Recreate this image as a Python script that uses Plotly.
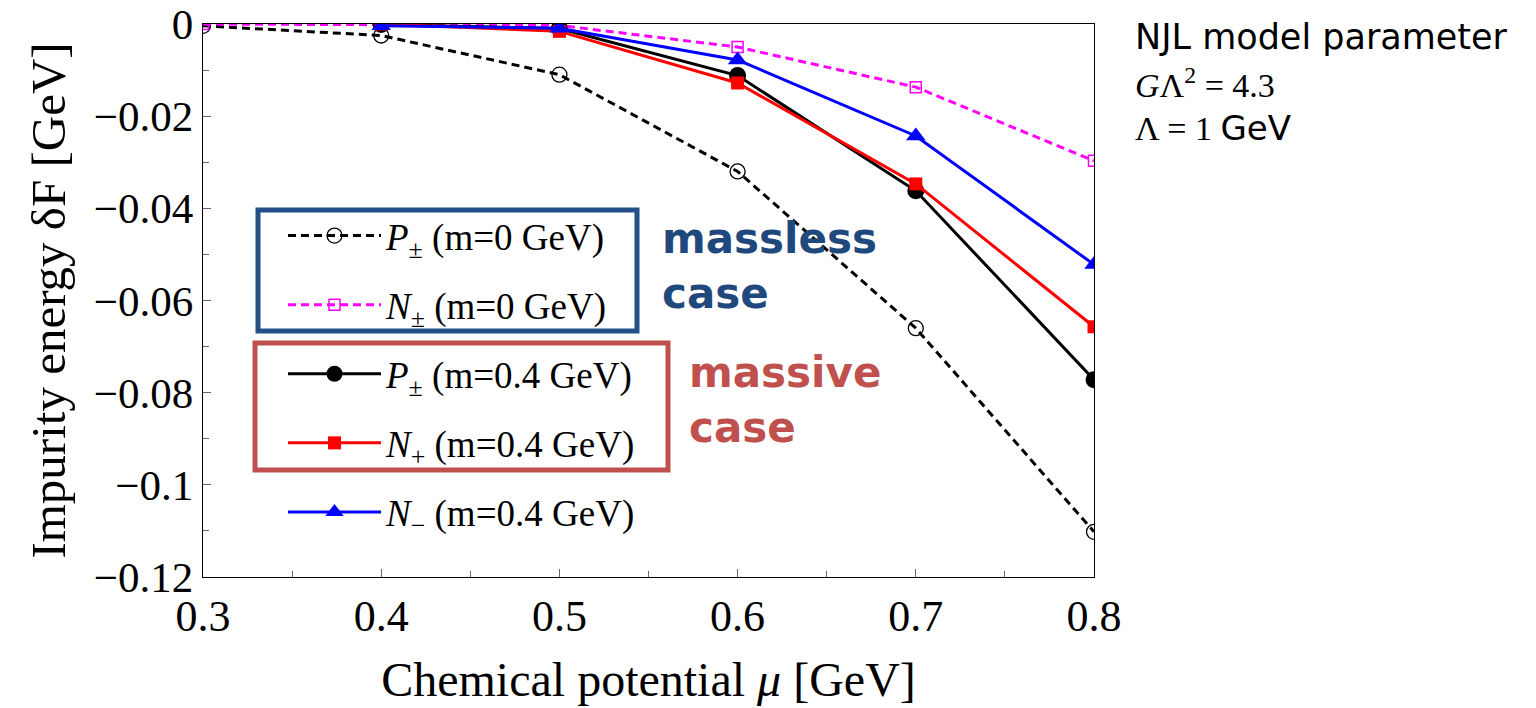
import plotly.graph_objects as go

mu = [0.3, 0.4, 0.5, 0.6, 0.7, 0.8]
mu_massive = [0.4, 0.5, 0.6, 0.7, 0.8]

P_m0 = [-0.0004, -0.0025, -0.0110, -0.0320, -0.0660, -0.1102]
N_m0 = [0.0, -0.0001, -0.0003, -0.0050, -0.0137, -0.0297]
P_m04 = [-0.0001, -0.0010, -0.0112, -0.0362, -0.0772]
Np_m04 = [0.0, -0.0016, -0.0128, -0.0347, -0.0657]
Nm_m04 = [-0.0004, -0.0009, -0.0078, -0.0243, -0.0522]

ytickvals = [0, -0.02, -0.04, -0.06, -0.08, -0.1, -0.12]
yticktext = ["0", "\u22120.02", "\u22120.04", "\u22120.06", "\u22120.08", "\u22120.1", "\u22120.12"]
xtickvals = [0.3, 0.4, 0.5, 0.6, 0.7, 0.8]
xticktext = ["0.3", "0.4", "0.5", "0.6", "0.7", "0.8"]

W, H = 1536, 708
L, R, T, B = 203, 1094, 24, 577


def px(x):
    return (x - L) / (R - L)


def py(y):
    return (B - y) / (B - T)


SERIF = "Liberation Serif, Times New Roman, serif"
SANS = "DejaVu Sans, sans-serif"
BLUE_TXT = "#1F497D"
BLUE_BOX = "#24508A"
RED_TXT = "#C0504D"
DASH = "8px,5px"

fig = go.Figure()
fig.add_trace(go.Scatter(
    x=mu, y=P_m0, mode="lines+markers",
    name="<i>P</i><sub>\u00b1</sub> (m=0 GeV)", legendgroup="a",
    line=dict(color="black", width=3, dash=DASH),
    marker=dict(symbol="circle-open", size=15, color="black", line=dict(width=1.3)),
))
fig.add_trace(go.Scatter(
    x=mu, y=N_m0, mode="lines+markers",
    name="<i>N</i><sub>\u00b1</sub> (m=0 GeV)", legendgroup="b",
    line=dict(color="#ff00ff", width=3, dash=DASH),
    marker=dict(symbol="square-open", size=11, color="#ff00ff", line=dict(width=1.5)),
))
fig.add_trace(go.Scatter(
    x=mu_massive, y=P_m04, mode="lines+markers",
    name="<i>P</i><sub>\u00b1</sub> (m=0.4 GeV)", legendgroup="c",
    line=dict(color="black", width=3),
    marker=dict(symbol="circle", size=17, color="black"),
))
fig.add_trace(go.Scatter(
    x=mu_massive, y=Np_m04, mode="lines+markers",
    name="<i>N</i><sub>+</sub> (m=0.4 GeV)", legendgroup="d",
    line=dict(color="#ff0000", width=3),
    marker=dict(symbol="square", size=13, color="#ff0000"),
))
fig.add_trace(go.Scatter(
    x=mu_massive, y=Nm_m04, mode="lines+markers",
    name="<i>N</i><sub>\u2212</sub> (m=0.4 GeV)", legendgroup="e",
    line=dict(color="#0000ff", width=3),
    marker=dict(symbol="triangle-up", size=17, color="#0000ff"),
))

shapes = [
    dict(type="rect", xref="paper", yref="paper",
         x0=px(258), x1=px(637), y0=py(331), y1=py(210),
         line=dict(color=BLUE_BOX, width=5)),
    dict(type="rect", xref="paper", yref="paper",
         x0=px(255), x1=px(668), y0=py(470), y1=py(343),
         line=dict(color=RED_TXT, width=5)),
]

annotations = [
    dict(text="<b>massless<br>case</b>", xref="paper", yref="paper",
         x=px(660), y=py(266), xanchor="left", yanchor="middle", showarrow=False,
         align="left", font=dict(family=SANS, size=42, color=BLUE_TXT)),
    dict(text="<b>massive<br>case</b>", xref="paper", yref="paper",
         x=px(687), y=py(400), xanchor="left", yanchor="middle", showarrow=False,
         align="left", font=dict(family=SANS, size=42, color=RED_TXT)),
    dict(text="NJL model parameter", xref="paper", yref="paper",
         x=px(1133), y=py(37), xanchor="left", yanchor="middle", showarrow=False,
         font=dict(family=SANS, size=35, color="black")),
    dict(text="<i>G</i>\u039b<sup>2</sup> = 4.3", xref="paper", yref="paper",
         x=px(1133), y=py(83), xanchor="left", yanchor="middle", showarrow=False,
         font=dict(family=SERIF, size=34, color="black")),
    dict(text="\u039b = 1 <span style=\"font-family:DejaVu Sans\">GeV</span>",
         xref="paper", yref="paper",
         x=px(1133), y=py(128), xanchor="left", yanchor="middle", showarrow=False,
         font=dict(family=SERIF, size=34, color="black")),
]

fig.update_layout(
    width=W, height=H,
    margin=dict(l=L, r=W - R, t=T, b=H - B),
    plot_bgcolor="white", paper_bgcolor="white",
    font=dict(family=SERIF, color="black"),
    showlegend=True,
    legend=dict(x=px(283), y=py(205), xanchor="left", yanchor="top",
                bgcolor="rgba(0,0,0,0)", font=dict(family=SERIF, size=37),
                tracegroupgap=18, itemwidth=93),
    shapes=shapes,
    annotations=annotations,
    xaxis=dict(range=[0.3, 0.8], tickvals=xtickvals, ticktext=xticktext,
               automargin=False,
               ticks="inside", ticklen=8, tickcolor="#666", showgrid=False, zeroline=False,
               showline=True, linecolor="black", linewidth=1.3, mirror=True,
               tickfont=dict(family=SERIF, size=44),
               minor=dict(ticks="inside", dtick=0.05, ticklen=6, tickcolor="#666"),
               title=dict(text="Chemical potential <i>\u03bc</i> [GeV]",
                          font=dict(family=SERIF, size=48), standoff=22)),
    yaxis=dict(range=[-0.12, 0], tickvals=ytickvals, ticktext=yticktext,
               automargin=False,
               ticks="inside", ticklen=8, tickcolor="#666", showgrid=False, zeroline=False,
               showline=True, linecolor="black", linewidth=1.3, mirror=True,
               tickfont=dict(family=SERIF, size=43),
               minor=dict(ticks="inside", dtick=0.01, ticklen=6, tickcolor="#666"),
               title=dict(text="Impurity energy \u03b4F [GeV]",
                          font=dict(family=SERIF, size=49), standoff=12)),
)

fig.write_html("out.html")
